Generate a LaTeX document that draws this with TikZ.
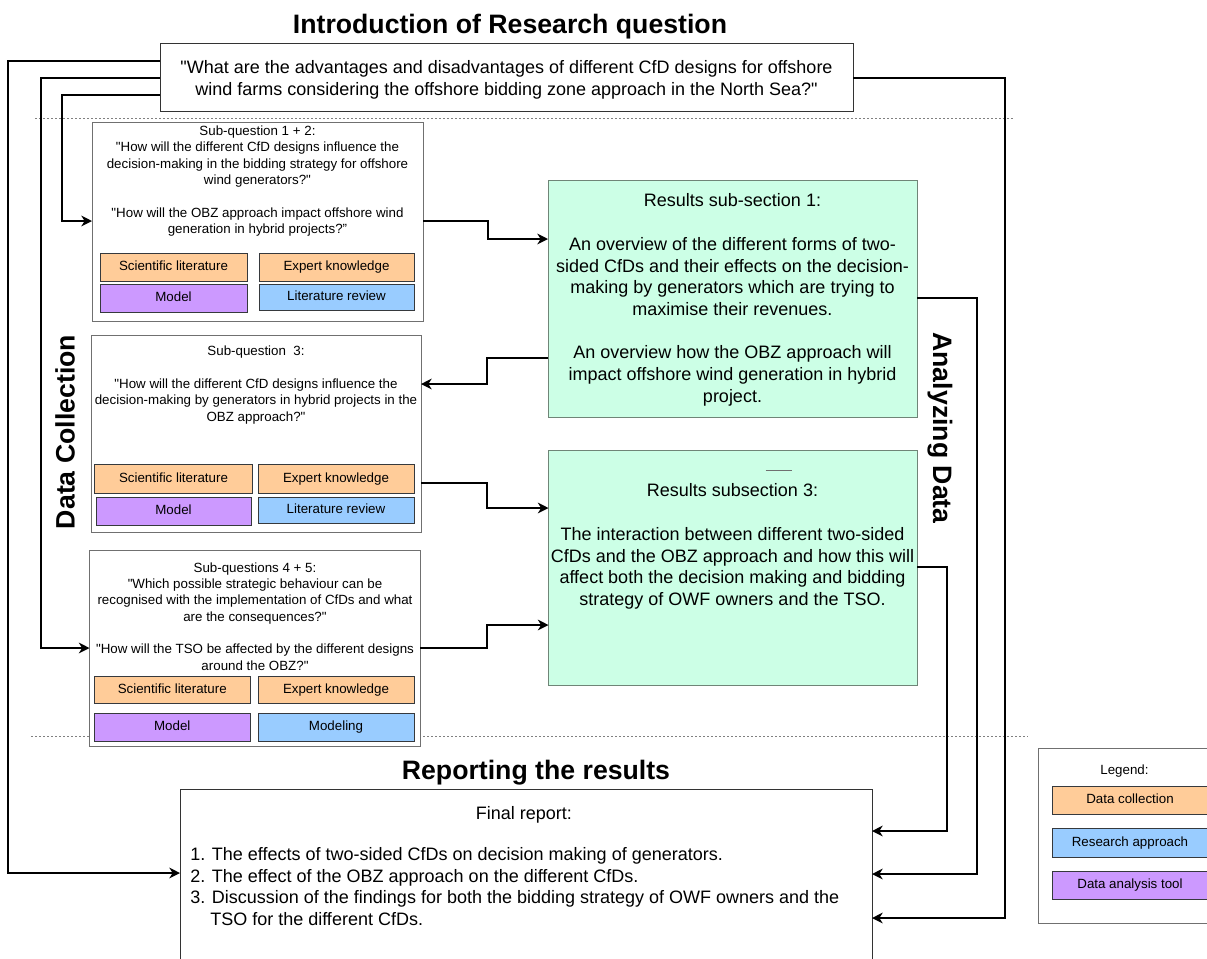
\documentclass[tikz,border=0pt]{standalone}
\usepackage{fontspec}
\setmainfont{Liberation Sans}[Ligatures=TeXOff]
\usetikzlibrary{arrows.meta,fit}
\definecolor{orgF}{HTML}{FFCC99}
\definecolor{purF}{HTML}{CC99FF}
\definecolor{bluF}{HTML}{99CCFF}
\definecolor{grnF}{HTML}{CCFFE6}
\definecolor{grnD}{HTML}{6F8577}
\definecolor{darkD}{HTML}{36393D}
\definecolor{subqD}{HTML}{707070}
\definecolor{mainD}{HTML}{333333}
\newcommand\fsA{\fontsize{13.5}{16.3}\selectfont}
\newcommand\fsB{\fontsize{10}{12.25}\selectfont}
\newcommand\fsT{\fontsize{20}{24}\selectfont\bfseries}
\begin{document}
\begin{tikzpicture}[x=0.75pt,y=-0.75pt,
  boxbase/.style={inner sep=0pt, outer sep=0pt, line width=0.75pt},
  subq/.style={boxbase, draw=subqD, fill=white},
  mainbox/.style={boxbase, draw=mainD, fill=white},
  resbox/.style={boxbase, draw=grnD, fill=grnF},
  orgbox/.style={boxbase, draw=darkD, fill=orgF},
  purbox/.style={boxbase, draw=darkD, fill=purF},
  blubox/.style={boxbase, draw=darkD, fill=bluF},
  inlab/.style={label={[font=\fsB, inner sep=0pt, text height=7.2pt, text depth=1.6pt]center:#1}},
  smalltxt/.style={font=\fsB, align=center, inner sep=0pt},
  legtxt/.style={font=\fsB, inner sep=0pt, text height=7.2pt, text depth=1.6pt},
  bigtxt/.style={font=\fsA, align=center, inner sep=0pt},
  titletxt/.style={font=\fsT, inner sep=0pt},
  arr/.style={line width=1.5pt, -{Stealth[length=8pt,width=8pt,inset=2.5pt]}},
  dsep/.style={draw=gray, line width=0.6pt, dash pattern=on 1.5pt off 1.5pt},
]
\useasboundingbox (0,0) rectangle (1207,958);
\fill[white] (0,0) rectangle (1207,958);

% titles
\node[titletxt, anchor=base] (t1) at (510,33) {Introduction of Research question};
\node[titletxt, anchor=base] (t2) at (536,779) {Reporting the results};
\node[titletxt, rotate=90] (t3) at (65,432) {Data Collection};
\node[titletxt, rotate=-90] (t4) at (940,428) {Analyzing Data};

% separators
\draw[dsep] (35,118) -- (1013,118);
\draw[dsep] (31,736) -- (1028,736);

% main question
\node[mainbox, fit={(160,43)(853,111)}] (rq) {};
\node[bigtxt] (rqt) at (506.5,80) {"What are the advantages and disadvantages of different CfD designs for offshore\\wind farms considering the offshore bidding zone approach in the North Sea?"};

% sub-question 1+2
\node[subq, fit={(92,122)(423,321)}] (sq1) {};
\node[smalltxt] (sq1t) at (257.5,181) {Sub-question 1 + 2:\\"How will the different CfD designs influence the\\decision-making in the bidding strategy for offshore\\wind generators?"\\~\\"How will the OBZ approach impact offshore wind\\generation in hybrid projects?”};
\node[orgbox, fit={(100,253)(247,281)}, inlab=Scientific literature] (s1a) {};
\node[orgbox, fit={(259,253)(414,281)}, inlab=Expert knowledge] (s1b) {};
\node[purbox, fit={(100,284)(247,312)}, inlab=Model] (s1c) {};
\node[blubox, fit={(259,284)(414,310)}, inlab=Literature review] (s1d) {};

% sub-question 3
\node[subq, fit={(91,335)(421,532)}] (sq3) {};
\node[smalltxt] (sq3t) at (256,385) {Sub-question\ \ 3:\\~\\"How will the different CfD designs influence the\\decision-making by generators in hybrid projects in the\\OBZ approach?"};
\node[orgbox, fit={(94.5,464)(252.5,493)}, inlab=Scientific literature] (s3a) {};
\node[orgbox, fit={(258,464)(414,493)}, inlab=Expert knowledge] (s3b) {};
\node[purbox, fit={(96,497)(251,525)}, inlab=Model] (s3c) {};
\node[blubox, fit={(258,497)(414,523)}, inlab=Literature review] (s3d) {};

% sub-questions 4+5
\node[subq, fit={(89.5,550)(420,746)}] (sq45) {};
\node[smalltxt] (sq45t) at (255,616.5) {Sub-questions 4 + 5:\\"Which possible strategic behaviour can be\\recognised with the implementation of CfDs and what\\are the consequences?"\\~\\"How will the TSO be affected by the different designs\\around the OBZ?"};
\node[orgbox, fit={(94.5,676)(250,703)}, inlab=Scientific literature] (s45a) {};
\node[orgbox, fit={(258,676)(414,703)}, inlab=Expert knowledge] (s45b) {};
\node[purbox, fit={(94.5,713)(250,741)}, inlab=Model] (s45c) {};
\node[blubox, fit={(258,713)(414,741)}, inlab=Modeling] (s45d) {};

% results boxes
\node[resbox, fit={(548,180)(917,417)}] (r1) {};
\node[bigtxt] (r1t) at (732.5,300) {Results sub-section 1:\\~\\An overview of the different forms of two-\\sided CfDs and their effects on the decision-\\making by generators which are trying to\\maximise their revenues.\\~\\An overview how the OBZ approach will\\impact offshore wind generation in hybrid\\project.};
\node[resbox, fit={(548.5,450)(917,685)}] (r3) {};
\draw[subqD, line width=0.75pt] (765.5,470) -- (792,470);
\node[bigtxt] (r3t) at (732.5,546.5) {Results subsection 3:\\~\\The interaction between different two-sided\\CfDs and the OBZ approach and how this will\\affect both the decision making and bidding\\strategy of OWF owners and the TSO.};

% final report
\node[mainbox, fit={(180,789)(872,1000)}] (fin) {};
\node[bigtxt] (fint) at (524,815) {Final report:};
\node[bigtxt, align=left, anchor=west] (finl) at (190,886.5) {1. The effects of two-sided CfDs on decision making of generators.\\2. The effect of the OBZ approach on the different CfDs.\\3. Discussion of the findings for both the bidding strategy of OWF owners and the\\\hspace*{15pt}TSO for the different CfDs.};

% legend
\node[boxbase, draw=subqD, fill=white, fit={(1038,748)(1220,923)}] (leg) {};
\node[legtxt] (legt) at (1124.5,771) {Legend:};
\node[orgbox, fit={(1052,786)(1209,814)}] (lg1) {};
\node[legtxt] (lg1t) at (1130,800) {Data collection};
\node[blubox, fit={(1052,828)(1209,857)}] (lg2) {};
\node[legtxt] (lg2t) at (1130,842.5) {Research approach};
\node[purbox, fit={(1052,871)(1209,899)}] (lg3) {};
\node[legtxt] (lg3t) at (1130,885) {Data analysis tool};

% connectors
\draw[arr] (rq.west |- 0,61) -- (8,61) -- (8,873) -- (fin.west |- 0,873);
\draw[arr] (rq.west |- 0,78) -- (41,78) -- (41,648) -- (sq45.west |- 0,648);
\draw[arr] (rq.west |- 0,95) -- (62,95) -- (62,221) -- (sq1.west |- 0,221);
\draw[arr] (sq1.east |- 0,221) -- (488,221) -- (488,239) -- (r1.west |- 0,239);
\draw[arr] (r1.west |- 0,358) -- (487,358) -- (487,384) -- (sq3.east |- 0,384);
\draw[arr] (sq3.east |- 0,483) -- (487,483) -- (487,508) -- (r3.west |- 0,508);
\draw[arr] (sq45.east |- 0,648) -- (487,648) -- (487,625) -- (r3.west |- 0,625);
\draw[arr] (r3.east |- 0,567) -- (947,567) -- (947,831) -- (fin.east |- 0,831);
\draw[arr] (r1.east |- 0,298) -- (977,298) -- (977,874) -- (fin.east |- 0,874);
\draw[arr] (rq.east |- 0,78) -- (1005,78) -- (1005,918) -- (fin.east |- 0,918);
\end{tikzpicture}
\end{document}
